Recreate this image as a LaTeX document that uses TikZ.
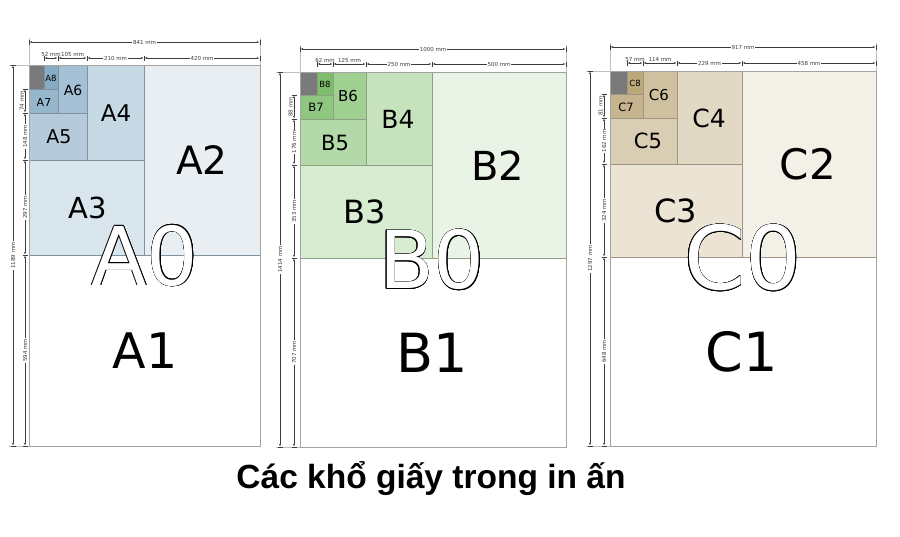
\documentclass[tikz,border=0pt]{standalone}
\usepackage{fontspec}
\setmainfont{DejaVu Sans}
\newfontfamily\titlefont{Liberation Sans}
\usepackage{contour}
\contourlength{0.55pt}
\usetikzlibrary{arrows.meta}

\definecolor{aedge}{HTML}{7E939F}
\definecolor{atwo}{HTML}{E8EEF2}
\definecolor{athree}{HTML}{DAE6EE}
\definecolor{afour}{HTML}{C7D9E5}
\definecolor{afive}{HTML}{B5CBDB}
\definecolor{asix}{HTML}{A4C0D4}
\definecolor{aseven}{HTML}{96B6CC}
\definecolor{aeight}{HTML}{88ABC5}
\definecolor{bedge}{HTML}{8AA383}
\definecolor{btwo}{HTML}{E9F4E6}
\definecolor{bthree}{HTML}{D8ECD2}
\definecolor{bfour}{HTML}{C6E3BD}
\definecolor{bfive}{HTML}{B3D9A8}
\definecolor{bsix}{HTML}{A1D093}
\definecolor{bseven}{HTML}{8FC680}
\definecolor{beight}{HTML}{7DBD6C}
\definecolor{cedge}{HTML}{A09584}
\definecolor{ctwo}{HTML}{F3F0E8}
\definecolor{cthree}{HTML}{EBE4D5}
\definecolor{cfour}{HTML}{E2D9C5}
\definecolor{cfive}{HTML}{D9CDB3}
\definecolor{csix}{HTML}{CFC1A0}
\definecolor{cseven}{HTML}{C5B48D}
\definecolor{ceight}{HTML}{BBA87B}
\definecolor{cornergrey}{HTML}{7A7A7A}
\definecolor{sheetgrey}{HTML}{A3A3A3}
\definecolor{dimgrey}{HTML}{3C3C3C}

\tikzset{
  part/.style={draw=#1,line width=0.5pt},
  sheet/.style={draw=sheetgrey,line width=0.7pt},
  ext/.style={draw=sheetgrey!70,line width=0.4pt},
  lbl/.style={inner sep=0pt,font=\fontsize{#1}{#1}\selectfont},
  dim/.style={draw=dimgrey,line width=0.5pt,|<->|},
  dimtxt/.style={fill=white,inner sep=1pt,text=dimgrey,font=\fontsize{5.5}{6}\selectfont},
  dimtop/.style={inner sep=1pt,anchor=south,text=dimgrey,font=\fontsize{5.5}{6}\selectfont}
}

\begin{document}
\begin{tikzpicture}[x=1pt,y=-1pt,>={Latex[length=2.5pt,width=2pt]}]
  \useasboundingbox (0,0) rectangle (900,536);

  % A series
  \foreach \xa/\ya/\xb/\yb/\col in {29/255/260/446/white,144/65/260/255/atwo,
      29/160/144/255/athree,87/65/144/160/afour,29/113/87/160/afive,
      58/65/87/113/asix,29/89/58/113/aseven,44/65/58/89/aeight,29/65/44/89/cornergrey}
    \draw[part=aedge,fill=\col] (\xa,\ya) rectangle (\xb,\yb);
  \draw[sheet] (29,65) rectangle (260,446);
  \draw[ext] (29,38) -- (29,65) -- (9,65);
  \draw[ext] (260,38) -- (260,65);
  \draw[ext] (9,446) -- (29,446);

  \node[lbl=49] (a1) at (145,351) {A1};
  \node[lbl=39] (a2) at (202,160) {A2};
  \node[lbl=29] (a3) at (88,208) {A3};
  \node[lbl=23] (a4) at (116,113) {A4};
  \node[lbl=19] (a5) at (59,137) {A5};
  \node[lbl=14] (a6) at (73,90) {A6};
  \node[lbl=11] (a7) at (44,102) {A7};
  \node[lbl=8.5] (a8) at (51,78) {A8};
  \node[lbl=81] (a0) at (145,256) {\textcolor{white}{\contour{black}{A0}}};

  \coordinate (at0) at (29,42);
  \coordinate (at1) at (260,42);
  \foreach \n/\x in {0/44,1/58,2/87,3/144,4/260}
    \coordinate (ar\n) at (\x,58);
  \coordinate (al0) at (13,65);
  \coordinate (al1) at (13,446);
  \foreach \n/\y in {0/89,1/113,2/160,3/255,4/446}
    \coordinate (ac\n) at (25,\y);
  \draw[dim] (at0) -- node[dimtxt] {841 mm} (at1);
  \draw[dim] (ar0) -- node[dimtop] {52 mm} (ar1);
  \draw[dim] (ar1) -- node[dimtop] {105 mm} (ar2);
  \draw[dim] (ar2) -- node[dimtxt] {210 mm} (ar3);
  \draw[dim] (ar3) -- node[dimtxt] {420 mm} (ar4);
  \draw[dim] (al0) -- node[dimtxt,rotate=90] {1189 mm} (al1);
  \draw[dim] (ac0) -- node[dimtop,rotate=90] {74 mm} (ac1);
  \draw[dim] (ac1) -- node[dimtxt,rotate=90] {148 mm} (ac2);
  \draw[dim] (ac2) -- node[dimtxt,rotate=90] {297 mm} (ac3);
  \draw[dim] (ac3) -- node[dimtxt,rotate=90] {594 mm} (ac4);

  % B series
  \foreach \xa/\ya/\xb/\yb/\col in {300/258/566/447/white,432/72/566/258/btwo,
      300/165/432/258/bthree,366/72/432/165/bfour,300/119/366/165/bfive,
      333/72/366/119/bsix,300/95/333/119/bseven,317/72/333/95/beight,300/72/317/95/cornergrey}
    \draw[part=bedge,fill=\col] (\xa,\ya) rectangle (\xb,\yb);
  \draw[sheet] (300,72) rectangle (566,447);
  \draw[ext] (300,45) -- (300,72) -- (276,72);
  \draw[ext] (566,45) -- (566,72);
  \draw[ext] (276,447) -- (300,447);

  \node[lbl=54] (b1) at (432,353) {B1};
  \node[lbl=40] (b2) at (498,166) {B2};
  \node[lbl=32] (b3) at (365,212) {B3};
  \node[lbl=25] (b4) at (398,119) {B4};
  \node[lbl=21] (b5) at (335,143) {B5};
  \node[lbl=15] (b6) at (348,96) {B6};
  \node[lbl=11.5] (b7) at (316,107) {B7};
  \node[lbl=8.5] (b8) at (325,84) {B8};
  \node[lbl=80] (b0) at (432,260) {\textcolor{white}{\contour{black}{B0}}};

  \coordinate (bt0) at (300,49);
  \coordinate (bt1) at (566,49);
  \foreach \n/\x in {0/317,1/333,2/366,3/432,4/566}
    \coordinate (br\n) at (\x,64);
  \coordinate (bl0) at (280,72);
  \coordinate (bl1) at (280,447);
  \foreach \n/\y in {0/95,1/119,2/165,3/258,4/447}
    \coordinate (bc\n) at (294,\y);
  \draw[dim] (bt0) -- node[dimtxt] {1000 mm} (bt1);
  \draw[dim] (br0) -- node[dimtop] {62 mm} (br1);
  \draw[dim] (br1) -- node[dimtop] {125 mm} (br2);
  \draw[dim] (br2) -- node[dimtxt] {250 mm} (br3);
  \draw[dim] (br3) -- node[dimtxt] {500 mm} (br4);
  \draw[dim] (bl0) -- node[dimtxt,rotate=90] {1414 mm} (bl1);
  \draw[dim] (bc0) -- node[dimtop,rotate=90] {88 mm} (bc1);
  \draw[dim] (bc1) -- node[dimtxt,rotate=90] {176 mm} (bc2);
  \draw[dim] (bc2) -- node[dimtxt,rotate=90] {353 mm} (bc3);
  \draw[dim] (bc3) -- node[dimtxt,rotate=90] {707 mm} (bc4);

  % C series
  \foreach \xa/\ya/\xb/\yb/\col in {610/257/876/446/white,742/71/876/257/ctwo,
      610/164/742/257/cthree,677/71/742/164/cfour,610/118/677/164/cfive,
      643/71/677/118/csix,610/94/643/118/cseven,627/71/643/94/ceight,610/71/627/94/cornergrey}
    \draw[part=cedge,fill=\col] (\xa,\ya) rectangle (\xb,\yb);
  \draw[sheet] (610,71) rectangle (876,446);
  \draw[ext] (610,43) -- (610,71) -- (586,71);
  \draw[ext] (876,43) -- (876,71);
  \draw[ext] (586,446) -- (610,446);

  \node[lbl=54] (c1) at (742,352) {C1};
  \node[lbl=42] (c2) at (808,164) {C2};
  \node[lbl=32] (c3) at (676,211) {C3};
  \node[lbl=25] (c4) at (709,118) {C4};
  \node[lbl=21] (c5) at (648,141) {C5};
  \node[lbl=15] (c6) at (659,95) {C6};
  \node[lbl=11.5] (c7) at (626,107) {C7};
  \node[lbl=8.5] (c8) at (635,83) {C8};
  \node[lbl=88] (c0) at (743,258) {\textcolor{white}{\contour{black}{C0}}};

  \coordinate (ct0) at (610,47);
  \coordinate (ct1) at (876,47);
  \foreach \n/\x in {0/627,1/643,2/677,3/742,4/876}
    \coordinate (cr\n) at (\x,63);
  \coordinate (cl0) at (590,71);
  \coordinate (cl1) at (590,446);
  \foreach \n/\y in {0/94,1/118,2/164,3/257,4/446}
    \coordinate (cc\n) at (604,\y);
  \draw[dim] (ct0) -- node[dimtxt] {917 mm} (ct1);
  \draw[dim] (cr0) -- node[dimtop] {57 mm} (cr1);
  \draw[dim] (cr1) -- node[dimtop] {114 mm} (cr2);
  \draw[dim] (cr2) -- node[dimtxt] {229 mm} (cr3);
  \draw[dim] (cr3) -- node[dimtxt] {458 mm} (cr4);
  \draw[dim] (cl0) -- node[dimtxt,rotate=90] {1297 mm} (cl1);
  \draw[dim] (cc0) -- node[dimtop,rotate=90] {81 mm} (cc1);
  \draw[dim] (cc1) -- node[dimtxt,rotate=90] {162 mm} (cc2);
  \draw[dim] (cc2) -- node[dimtxt,rotate=90] {324 mm} (cc3);
  \draw[dim] (cc3) -- node[dimtxt,rotate=90] {648 mm} (cc4);

  \node[anchor=base,inner sep=0pt,font=\titlefont\bfseries\fontsize{33.5}{36}\selectfont] (title) at (431,488) {Các khổ giấy trong in ấn};
\end{tikzpicture}
\end{document}
